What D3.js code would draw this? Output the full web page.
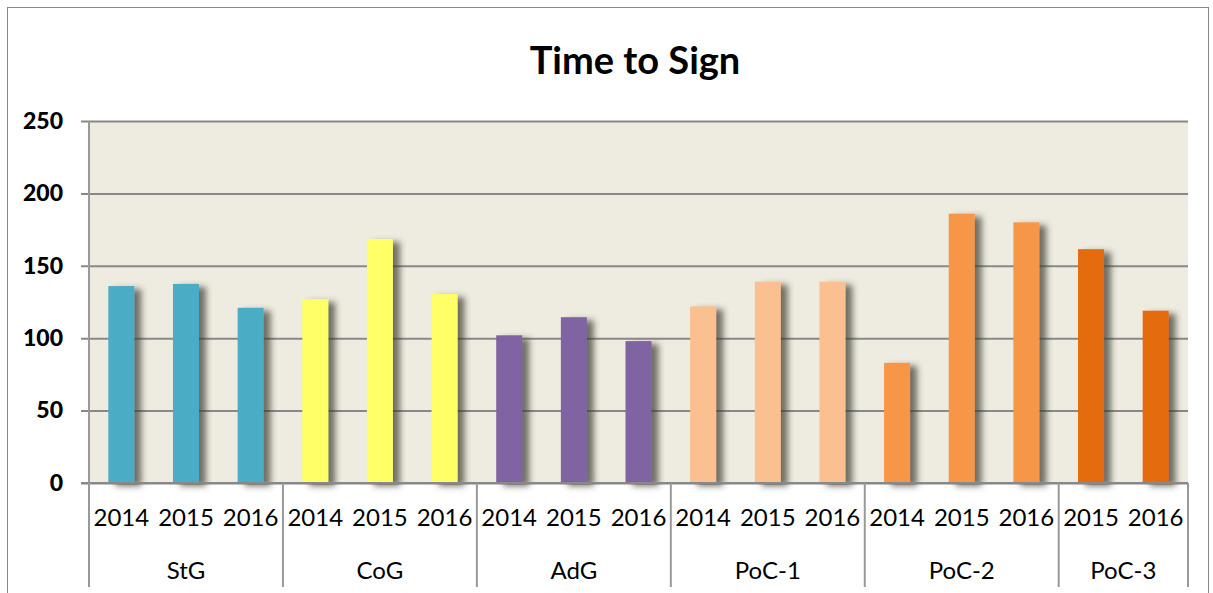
<!DOCTYPE html>
<html>
<head>
<meta charset="utf-8">
<script src="https://cdn.jsdelivr.net/npm/d3@7"></script>
<style>
  body { margin: 0; background: #fff; }
  text { font-family: Lato, "Open Sans", sans-serif; }
</style>
</head>
<body>
<div id="chart"></div>
<script>
// data
const groups = ["StG", "CoG", "AdG", "PoC-1", "PoC-2", "PoC-3"];
const years = [
  ["2014", "2015", "2016"],
  ["2014", "2015", "2016"],
  ["2014", "2015", "2016"],
  ["2014", "2015", "2016"],
  ["2014", "2015", "2016"],
  ["2015", "2016"]
];
const values = [
  [136, 137.5, 121],
  [127, 168.5, 130.5],
  [102, 114.5, 98],
  [122, 139, 139],
  [83, 186, 180],
  [161.5, 119]
];
const colors = ["#4BACC6", "#FFFF66", "#8064A2", "#FAC090", "#F79646", "#E46C0A"];
const yTicks = [0, 50, 100, 150, 200, 250];
const title = "Time to Sign";

// flatten into one row per bar
const rows = [];
groups.forEach((g, gi) => {
  years[gi].forEach((yr, yi) => {
    rows.push({ group: g, gi: gi, year: yr, key: g + "|" + yr, value: values[gi][yi] });
  });
});

const W = 1213, H = 593;
const margin = { top: 121, right: 25, bottom: 110, left: 89 };
const width = 1188 - margin.left;
const height = 483 - margin.top;

const svg = d3.select("#chart").append("svg")
  .attr("width", W)
  .attr("height", H);

// shadow filter
const defs = svg.append("defs");
const f = defs.append("filter").attr("id", "shadow")
  .attr("x", "-30%").attr("y", "-10%").attr("width", "180%").attr("height", "130%");
f.append("feGaussianBlur").attr("in", "SourceAlpha").attr("stdDeviation", 3.2).attr("result", "blur");
f.append("feOffset").attr("in", "blur").attr("dx", 7).attr("dy", 3).attr("result", "off");
f.append("feFlood").attr("flood-color", "#3a3a30").attr("flood-opacity", 0.7);
f.append("feComposite").attr("in2", "off").attr("operator", "in").attr("result", "sh");
const fm = f.append("feMerge");
fm.append("feMergeNode").attr("in", "sh");
fm.append("feMergeNode").attr("in", "SourceGraphic");

// outer border
svg.append("rect")
  .attr("x", 7.5).attr("y", 7.5)
  .attr("width", 1201).attr("height", 600)
  .attr("fill", "none").attr("stroke", "#888").attr("stroke-width", 1);

// title
svg.append("text")
  .attr("x", 635).attr("y", 74)
  .attr("text-anchor", "middle")
  .style("font-size", "38px").style("font-weight", "bold")
  .text(title);

const g = svg.append("g").attr("transform", `translate(${margin.left},${margin.top})`);

// scales
const x = d3.scaleBand()
  .domain(rows.map(d => d.key))
  .range([0, width])
  .paddingInner(0.598)
  .paddingOuter(0.299);

const y = d3.scaleLinear().domain([0, 250]).range([height, 0]);

// plot background
g.append("rect")
  .attr("width", width).attr("height", height)
  .attr("fill", "#EEEBE0");

// gridlines + y axis
const yAxis = g.append("g")
  .call(d3.axisLeft(y).tickValues(yTicks).tickSize(-width).tickPadding(18))
yAxis.select(".domain").remove();
yAxis.selectAll(".tick line")
  .attr("stroke", "#888").attr("stroke-width", 2)
  .attr("x1", -8);
yAxis.selectAll(".tick text")
  .style("font-size", "23px").style("font-weight", "900")
  .style("font-family", "Lato, sans-serif")
  .attr("fill", "#000")
  .attr("x", -26);

// bars
g.selectAll(".bar")
  .data(rows)
  .join("rect")
  .attr("class", "bar")
  .attr("x", d => x(d.key))
  .attr("y", d => y(d.value))
  .attr("width", x.bandwidth())
  .attr("height", d => y(0) - y(d.value))
  .attr("fill", d => colors[d.gi])
  .attr("filter", "url(#shadow)");

// category axis line
g.append("line")
  .attr("x1", -8).attr("x2", width)
  .attr("y1", height).attr("y2", height)
  .attr("stroke", "#888").attr("stroke-width", 2);

// group separators
let idx = 0;
const bounds = [0];
years.forEach(ys => { idx += ys.length; bounds.push(idx); });
const step = x.step();
g.selectAll(".sep")
  .data(bounds)
  .join("line")
  .attr("x1", d => d * step).attr("x2", d => d * step)
  .attr("y1", d => d === 0 ? 0 : height).attr("y2", 466)
  .attr("stroke", "#999").attr("stroke-width", 2);

// year labels
g.selectAll(".yr")
  .data(rows)
  .join("text")
  .attr("x", d => x(d.key) + x.bandwidth() / 2)
  .attr("y", height + 43)
  .attr("text-anchor", "middle")
  .style("font-size", "24px")
  .text(d => d.year);

// group labels
g.selectAll(".grp")
  .data(groups)
  .join("text")
  .attr("x", (d, i) => (bounds[i] + bounds[i + 1]) / 2 * step)
  .attr("y", height + 96)
  .attr("text-anchor", "middle")
  .style("font-size", "24px")
  .text(d => d);
</script>
</body>
</html>
